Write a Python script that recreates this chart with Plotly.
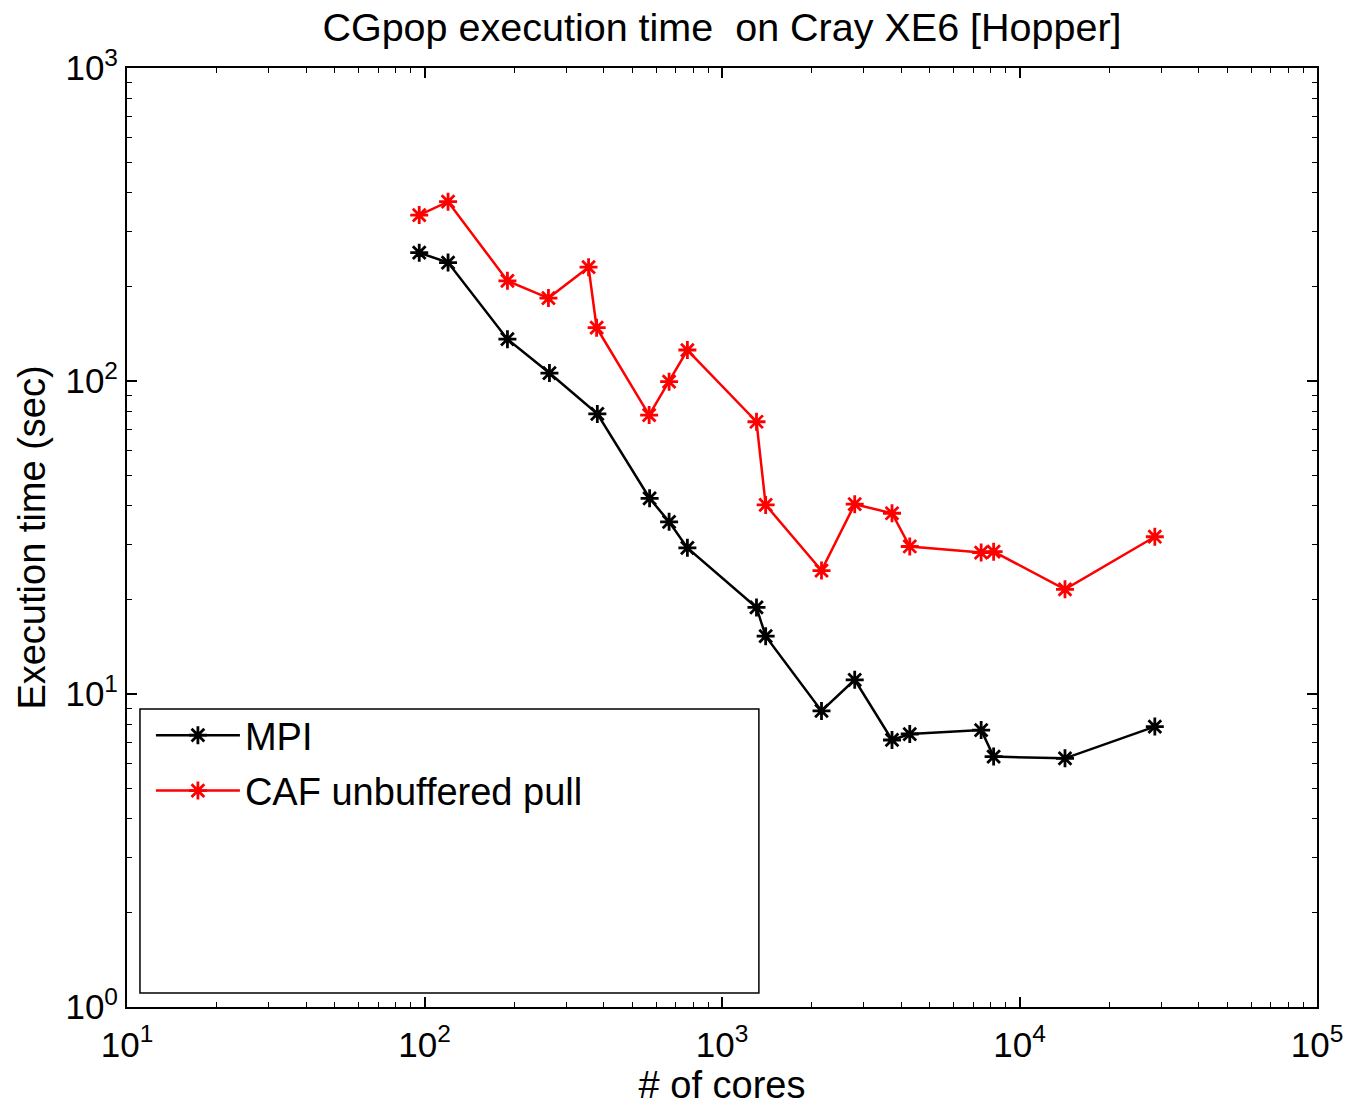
import plotly.graph_objects as go

# ---- data ----
mpi_cores = [96, 120, 190, 263, 381, 571, 664, 765, 1306, 1402, 2160, 2793, 3728, 4277, 7431, 8185, 14220, 28500]
mpi_time = [257, 239, 136, 106, 78.5, 42.2, 35.5, 29.3, 18.9, 15.3, 8.83, 11.1, 7.13, 7.45, 7.67, 6.31, 6.23, 7.87]

caf_cores = [96, 120, 190, 261, 356, 379, 569, 664, 765, 1306, 1402, 2160, 2793, 3728, 4277, 7431, 8185, 14220, 28500]
caf_time = [339, 374, 209, 184, 231, 148, 77.8, 99.5, 125.6, 74.1, 40.2, 24.8, 40.4, 37.8, 29.6, 28.3, 28.5, 21.6, 31.8]

x_tick_vals = [10, 100, 1000, 10000, 100000]
x_tick_text = ["10<sup>1</sup>", "10<sup>2</sup>", "10<sup>3</sup>", "10<sup>4</sup>", "10<sup>5</sup>"]
y_tick_vals = [1, 10, 100, 1000]
y_tick_text = ["10<sup>0</sup>", "10<sup>1</sup>", "10<sup>2</sup>", "10<sup>3</sup>"]

x_minor = [m * 10 ** e for e in range(1, 5) for m in range(2, 10)]
y_minor = [m * 10 ** e for e in range(0, 3) for m in range(2, 10)]

FONT = "Liberation Sans, Arial, sans-serif"
LABEL_SIZE = 38
TICK_SIZE = 35

fig = go.Figure()
fig.add_trace(go.Scatter(
    x=mpi_cores, y=mpi_time, mode="lines+markers", name="MPI",
    line=dict(color="black", width=2.5),
    marker=dict(symbol="asterisk-open", size=15, color="black", line=dict(color="black", width=2.8)),
    legendgroup="a",
))
fig.add_trace(go.Scatter(
    x=caf_cores, y=caf_time, mode="lines+markers", name="CAF unbuffered pull",
    line=dict(color="#ff0000", width=2.5),
    marker=dict(symbol="asterisk-open", size=15, color="#ff0000", line=dict(color="#ff0000", width=2.8)),
    legendgroup="b",
))

axis_common = dict(
    type="log",
    automargin=False,
    showgrid=False,
    zeroline=False,
    showline=True,
    linecolor="black",
    linewidth=2,
    mirror="allticks",
    ticks="inside",
    ticklen=10,
    tickwidth=1.5,
    tickcolor="black",
    tickfont=dict(family=FONT, size=TICK_SIZE, color="black"),
)

fig.update_xaxes(
    **axis_common,
    range=[1, 5],
    tickvals=x_tick_vals, ticktext=x_tick_text,
    ticklabelstandoff=6,
    minor=dict(ticks="inside", ticklen=5, tickwidth=1.2, tickcolor="black", showgrid=False, tickvals=x_minor),
    title=dict(text="# of cores", font=dict(family=FONT, size=LABEL_SIZE, color="black"), standoff=6),
)
fig.update_yaxes(
    **axis_common,
    range=[0, 3],
    tickvals=y_tick_vals, ticktext=y_tick_text,
    minor=dict(ticks="inside", ticklen=5, tickwidth=1.2, tickcolor="black", showgrid=False, tickvals=y_minor),
    title=dict(text="Execution time (sec)", font=dict(family=FONT, size=LABEL_SIZE, color="black"), standoff=8),
)

# legend frame (MATLAB-style large box)
fig.add_shape(type="rect", xref="paper", yref="paper",
              x0=0.0109, x1=0.531, y0=0.0149, y1=0.3174,
              line=dict(color="black", width=1.5), fillcolor="rgba(0,0,0,0)", layer="above")

fig.update_layout(
    width=1350, height=1107,
    margin=dict(l=127, r=33, t=68, b=100),
    paper_bgcolor="white", plot_bgcolor="white",
    title=dict(text="CGpop execution time  on Cray XE6 [Hopper]",
               font=dict(family=FONT, size=39.5, color="black"),
               x=(722 / 1350), xanchor="center", y=1 - 27 / 1107, yanchor="middle",
               xref="container", yref="container"),
    legend=dict(x=0.0201, y=0.3227, xanchor="left", yanchor="top",
                bgcolor="rgba(0,0,0,0)", borderwidth=0,
                font=dict(family=FONT, size=LABEL_SIZE, color="black"),
                itemwidth=84, tracegroupgap=3),
    showlegend=True,
)

fig.write_html("out.html")
